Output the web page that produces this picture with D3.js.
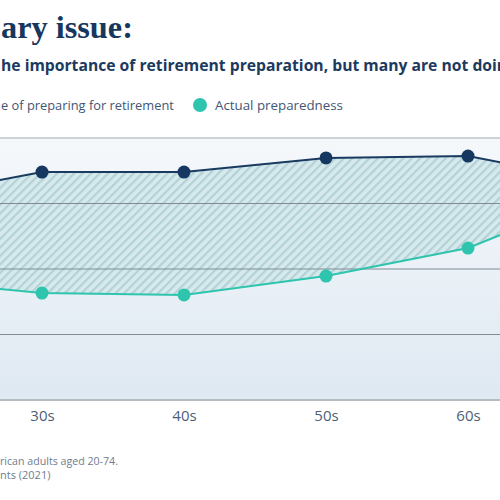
<!DOCTYPE html>
<html><head><meta charset="utf-8">
<script src="https://cdn.jsdelivr.net/npm/d3@7"></script>
<style>html,body{margin:0;padding:0;background:#fff;overflow:hidden}svg{display:block}</style>
</head><body>
<script>
const categories = ["20s","30s","40s","50s","60s","70s"];
const importance = [76.7, 87.0, 87.0, 92.4, 93.1, 82.8];
const preparedness = [46.0, 40.8, 40.1, 47.3, 58.0, 80.0];
const xLabels = ["30s","40s","50s","60s"];
const yTicks = [0, 25, 50, 75, 100];

const W = 500, H = 500;
const svg = d3.select("body").append("svg").attr("width", W).attr("height", H);
const defs = svg.append("defs");

const grad = defs.append("linearGradient").attr("id","bg").attr("x1",0).attr("y1",0).attr("x2",0).attr("y2",1);
grad.append("stop").attr("offset","0%").attr("stop-color","#f5f8fb");
grad.append("stop").attr("offset","100%").attr("stop-color","#dfe9f2");

const pat = defs.append("pattern").attr("id","hatch").attr("patternUnits","userSpaceOnUse")
  .attr("width",6).attr("height",6).attr("patternTransform","rotate(45)");
pat.append("rect").attr("width",6).attr("height",6).attr("fill","#d6e9ec");
pat.append("rect").attr("x",0).attr("width",2.2).attr("height",6).attr("fill","#b3d2d7");

const x = d3.scalePoint().domain(categories).range([-100, 610]);
const y = d3.scaleLinear().domain([0,100]).range([400, 138]);

// fit helper: scale font-size so that the text (or a prefix of it) spans target width
function fit(sel, target, prefix) {
  const node = sel.node();
  const full = node.textContent;
  const fs = +sel.attr("font-size");
  if (prefix) node.textContent = prefix;
  const w = node.getComputedTextLength();
  node.textContent = full;
  sel.attr("font-size", fs * target / w);
  return sel;
}

// background
svg.append("rect").attr("x",0).attr("y",y(100)).attr("width",W).attr("height",y(0)-y(100)).attr("fill","url(#bg)");

// band
const area = d3.area().x((d,i)=>x(categories[i])).y0((d,i)=>y(preparedness[i])).y1(d=>y(d));
svg.append("path").datum(importance).attr("d",area).attr("fill","url(#hatch)");

// grid
svg.append("g").selectAll("line").data(yTicks).join("line")
  .attr("x1",0).attr("x2",W).attr("y1",d=>y(d)).attr("y2",d=>y(d))
  .attr("stroke",d=> d===100 ? "#cfd2d5" : (d===0 ? "#b7bcc1" : "#7f8c98"))
  .attr("stroke-width",d=> (d===0||d===100) ? 2 : 1);

// lines
const line = d3.line().x((d,i)=>x(categories[i])).y(d=>y(d));
svg.append("path").datum(importance).attr("d",line).attr("fill","none").attr("stroke","#1a3a60").attr("stroke-width",2);
svg.append("path").datum(preparedness).attr("d",line).attr("fill","none").attr("stroke","#2ec4ae").attr("stroke-width",2);

svg.append("g").selectAll("circle").data(importance).join("circle")
  .attr("cx",(d,i)=>x(categories[i])).attr("cy",d=>y(d)).attr("r",6.5).attr("fill","#163760");
svg.append("g").selectAll("circle").data(preparedness).join("circle")
  .attr("cx",(d,i)=>x(categories[i])).attr("cy",d=>y(d)).attr("r",6.5).attr("fill","#2ec4ae");

// x axis
const xAxis = d3.axisBottom(x).tickValues(xLabels).tickSize(0).tickPadding(10);
const gx = svg.append("g").attr("transform",`translate(0,${y(0)})`).call(xAxis);
gx.select(".domain").remove();
gx.selectAll("text").attr("font-family","'Open Sans'").attr("font-size",15).attr("fill","#4b5f78").attr("font-weight",400);

// title
fit(svg.append("text").attr("x",1).attr("y",38)
  .attr("font-family","'Liberation Serif'").attr("font-weight",700).attr("font-size",34).attr("fill","#17375e")
  .text("ary issue:"), 132);
fit(svg.append("text").attr("x",1).attr("y",71)
  .attr("font-family","'Open Sans'").attr("font-weight",700).attr("font-size",16).attr("fill","#1c3a5e")
  .text("he importance of retirement preparation, but many are not doing"), 496, "he importance of retirement preparation, but many are not doi");

// legend
fit(svg.append("text").attr("x",1).attr("y",110)
  .attr("font-family","'Open Sans'").attr("font-weight",400).attr("font-size",15).attr("fill","#3f5674")
  .text("e of preparing for retirement"), 173);
svg.append("circle").attr("cx",200).attr("cy",105).attr("r",7).attr("fill","#2ec4ae");
fit(svg.append("text").attr("x",215).attr("y",110)
  .attr("font-family","'Open Sans'").attr("font-weight",400).attr("font-size",15).attr("fill","#3f5674")
  .text("Actual preparedness"), 128);

// footnote
fit(svg.append("text").attr("x",0).attr("y",465)
  .attr("font-family","'Open Sans'").attr("font-size",11).attr("fill","#6f7d8f").text("rican adults aged 20-74."), 118);
svg.append("text").attr("x",0).attr("y",479)
  .attr("font-family","'Open Sans'").attr("font-size",11).attr("fill","#6f7d8f").text("nts (2021)");
</script>
</body></html>
